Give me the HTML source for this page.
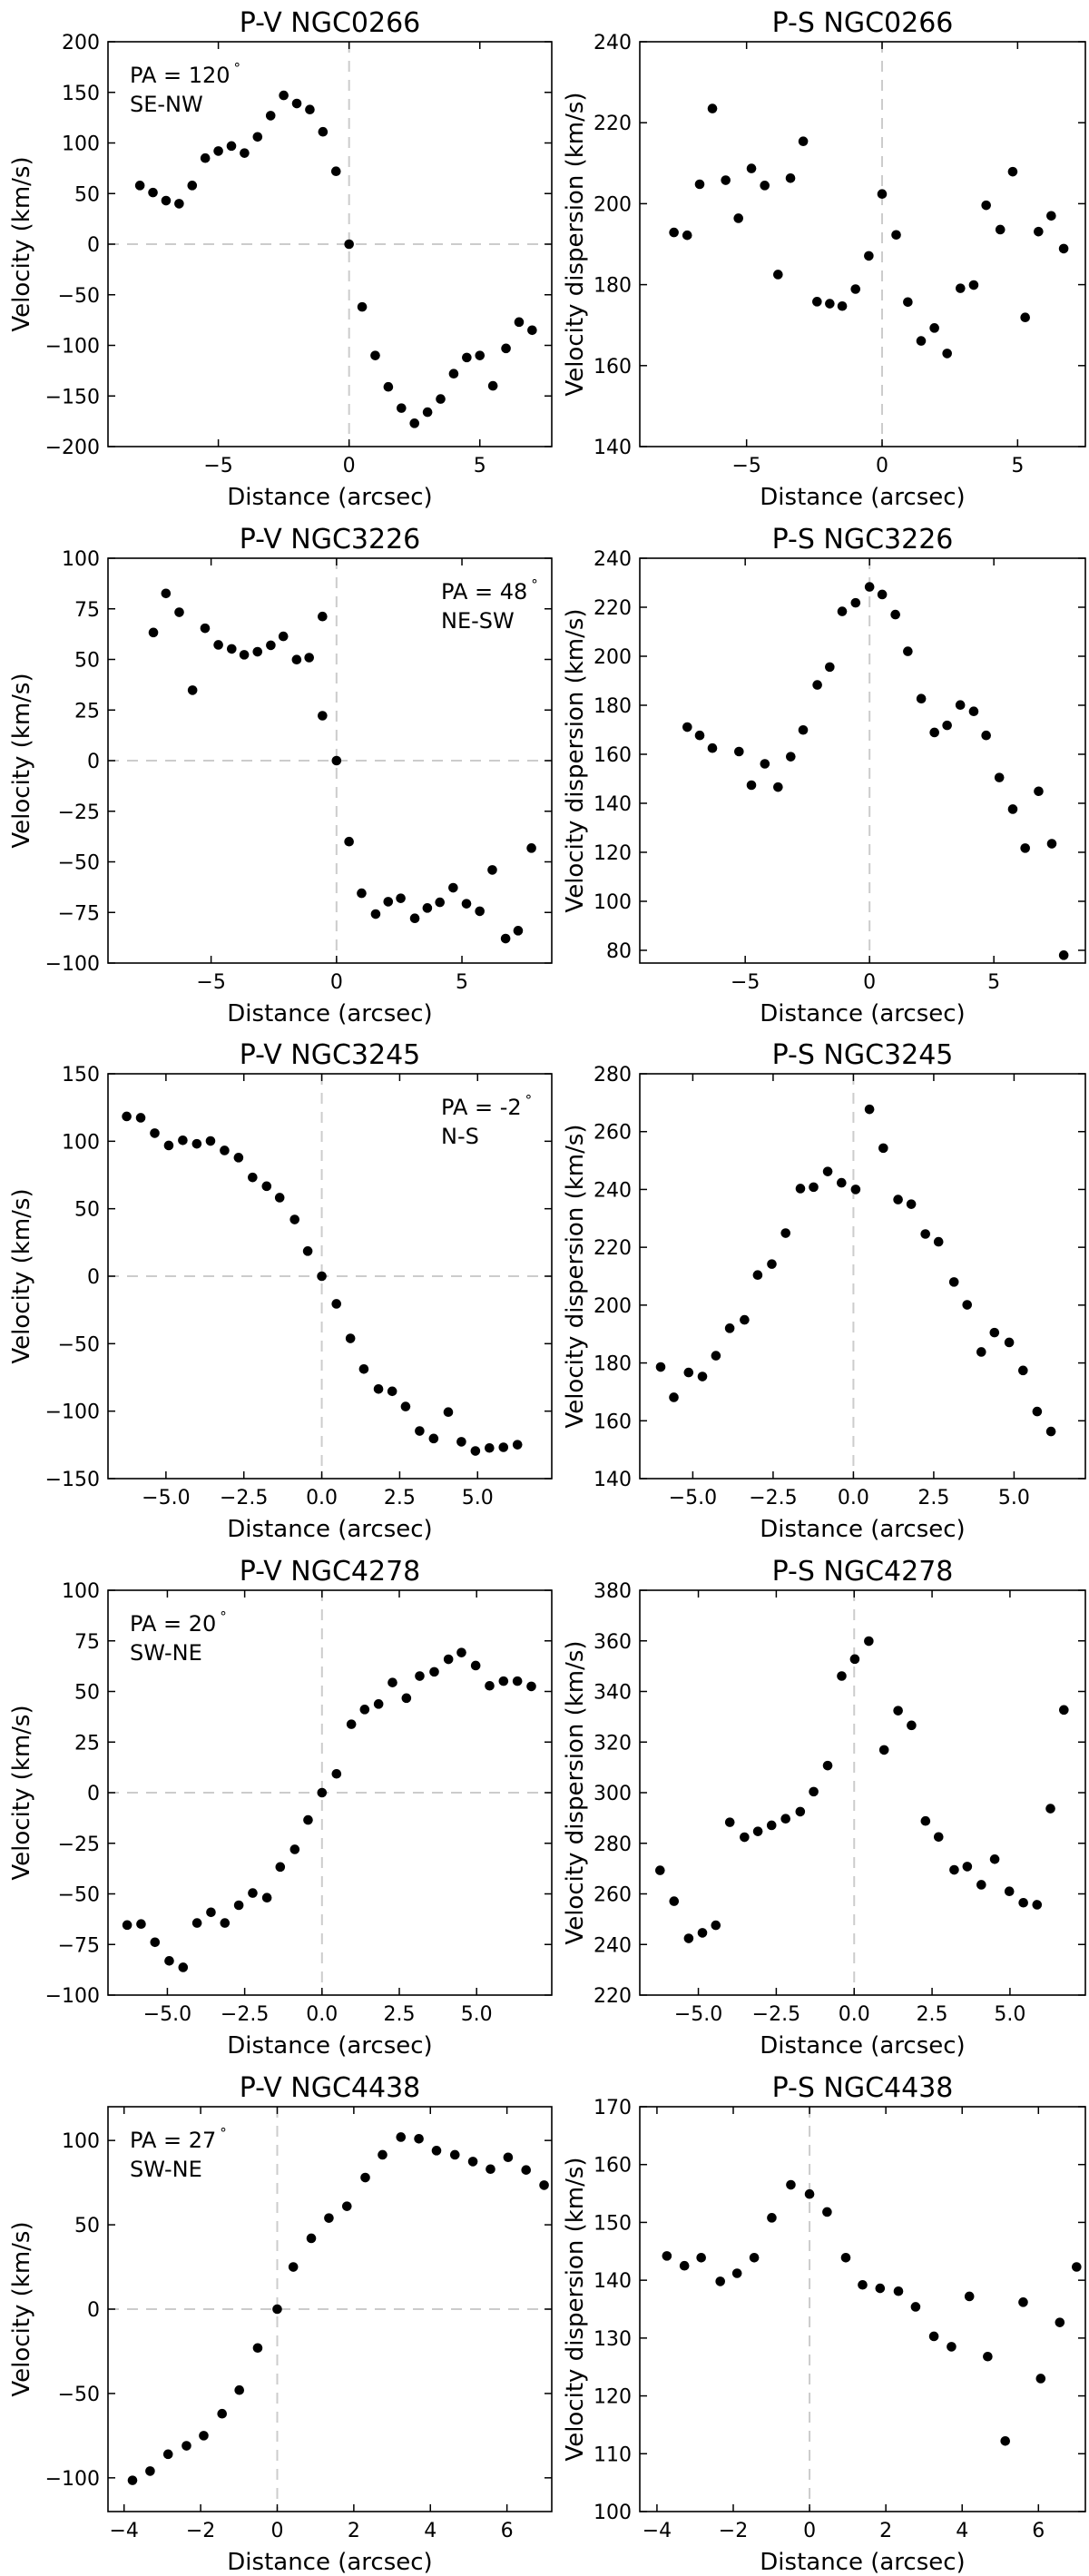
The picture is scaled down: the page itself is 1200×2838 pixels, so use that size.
<!DOCTYPE html>
<html><head><meta charset="utf-8"><style>
html,body{margin:0;padding:0;background:#fff;}
svg{display:block;font-family:"DejaVu Sans","Liberation Sans",sans-serif;}
</style></head><body>
<svg id="fig" width="1200" height="2838" viewBox="0 0 1200 2838" xmlns="http://www.w3.org/2000/svg"></svg>
<script>
// ---- data ----
const pv0266_x=[-8.0,-7.5,-7.0,-6.5,-6.0,-5.5,-5.0,-4.5,-4.0,-3.5,-3.0,-2.5,-2.0,-1.5,-1.0,-0.5,0,0.5,1.0,1.5,2.0,2.5,3.0,3.5,4.0,4.5,5.0,5.5,6.0,6.5,7.0];
const pv0266_v=[58,51,43,40,58,85,92,97,90,106,127,147,139,133,111,72,0,-62,-110,-141,-162,-177,-166,-153,-128,-112,-110,-140,-103,-77,-85];
const ps0266_x=[-7.68,-7.19,-6.73,-6.26,-5.77,-5.3,-4.82,-4.33,-3.84,-3.38,-2.91,-2.4,-1.93,-1.47,-0.98,-0.49,0,0.52,0.95,1.44,1.93,2.4,2.89,3.38,3.84,4.36,4.82,5.28,5.77,6.24,6.7];
const ps0266_s=[192.9,192.2,204.8,223.5,205.8,196.4,208.7,204.5,182.5,206.3,215.4,175.8,175.3,174.7,178.9,187.1,202.4,192.3,175.7,166.1,169.3,163,179.1,179.9,199.6,193.6,207.9,171.9,193.1,197,188.9];
const pv3226_x=[-7.3,-6.8,-6.27,-5.74,-5.24,-4.71,-4.18,-3.68,-3.15,-2.62,-2.12,-1.59,-1.09,-0.56,-0.56,0,0.5,1.0,1.56,2.06,2.56,3.12,3.62,4.12,4.65,5.18,5.71,6.21,6.74,7.24,7.77];
const pv3226_v=[63.3,82.6,73.3,34.8,65.4,57.2,55.2,52.3,53.8,57,61.4,49.9,50.9,71.2,22.2,0,-40,-65.5,-75.8,-69.7,-68,-77.9,-72.8,-70,-62.8,-70.7,-74.4,-54,-87.9,-84,-43.2];
const ps3226_x=[-7.33,-6.83,-6.32,-5.25,-4.75,-4.21,-3.68,-3.17,-2.67,-2.1,-1.6,-1.1,-0.56,0,0.51,1.04,1.54,2.08,2.61,3.12,3.65,4.19,4.69,5.22,5.76,6.26,6.8,7.33,7.81];
const ps3226_s=[171.1,167.7,162.5,161.1,147.4,156.1,146.6,159,169.9,188.3,195.6,218.3,221.8,228.3,225.2,217,202,182.7,168.9,171.8,180.1,177.5,167.7,150.5,137.6,121.7,144.9,123.5,78];
const pv3245_x=[-6.26,-5.81,-5.36,-4.91,-4.46,-4.01,-3.57,-3.12,-2.67,-2.22,-1.77,-1.35,-0.87,-0.45,0,0.47,0.92,1.35,1.82,2.26,2.69,3.14,3.59,4.06,4.48,4.93,5.38,5.83,6.28];
const pv3245_v=[118.4,117.4,106,96.9,100.7,98.1,100.2,93.2,87.9,73.2,66.7,58.2,42,18.6,0,-20.5,-46.1,-68.8,-83.6,-85.3,-96.6,-114.7,-120.3,-100.7,-122.7,-129.5,-127.3,-126.8,-124.9];
const ps3245_x=[-6.0,-5.59,-5.13,-4.7,-4.28,-3.85,-3.39,-2.98,-2.54,-2.11,-1.65,-1.24,-0.8,-0.37,0.07,0.5,0.93,1.39,1.8,2.24,2.65,3.13,3.54,3.98,4.39,4.85,5.28,5.72,6.15];
const ps3245_s=[178.6,168.1,176.7,175.3,182.5,192,194.9,210.4,214.2,224.9,240.3,240.8,246.2,242.3,240,267.7,254.3,236.5,234.9,224.6,221.9,208,200.1,183.8,190.5,187.1,177.4,163.2,156.3];
const pv4278_x=[-6.3,-5.85,-5.4,-4.94,-4.49,-4.04,-3.59,-3.14,-2.69,-2.24,-1.78,-1.35,-0.88,-0.45,0,0.47,0.95,1.38,1.83,2.28,2.73,3.16,3.63,4.09,4.51,4.97,5.42,5.87,6.32,6.77];
const pv4278_v=[-65.4,-64.9,-73.9,-83.1,-86.3,-64.4,-59.1,-64.4,-55.6,-49.6,-51.9,-36.7,-28,-13.5,0,9.3,33.8,41.1,43.8,54.4,46.7,57.6,59.7,65.9,69.2,62.8,52.8,55.1,55.1,52.5];
const ps4278_x=[-6.23,-5.78,-5.31,-4.87,-4.44,-3.99,-3.52,-3.09,-2.65,-2.2,-1.73,-1.3,-0.85,-0.4,0.02,0.47,0.96,1.41,1.84,2.29,2.71,3.21,3.63,4.08,4.51,4.98,5.43,5.87,6.3,6.73];
const ps4278_s=[269.3,257.1,242.4,244.6,247.6,288.3,282.4,284.7,287.1,289.7,292.5,300.4,310.7,346.1,352.8,359.9,316.9,332.4,326.6,288.8,282.5,269.5,270.8,263.6,273.7,261,256.5,255.7,293.7,332.7];
const pv4438_x=[-3.78,-3.32,-2.85,-2.37,-1.92,-1.44,-0.99,-0.51,0,0.42,0.89,1.35,1.82,2.3,2.75,3.23,3.7,4.16,4.64,5.11,5.57,6.03,6.5,6.97];
const pv4438_v=[-101.5,-96,-86,-81,-75,-62,-48,-23,0,25,42,54,61,78,91.5,102,101,94,91.5,87.5,83,90,82.5,73.5];
const ps4438_x=[-3.74,-3.28,-2.84,-2.34,-1.9,-1.45,-0.99,-0.49,0,0.46,0.95,1.39,1.85,2.33,2.78,3.26,3.72,4.19,4.67,5.13,5.6,6.06,6.56,7.0];
const ps4438_s=[144.2,142.5,143.9,139.8,141.2,143.9,150.8,156.5,154.9,151.8,143.9,139.2,138.6,138.1,135.4,130.3,128.5,137.2,126.8,112.2,136.2,123,132.7,142.3];
// tick labels
const xt5=[-5,0,5];
const xt25=[-5,-2.5,0,2.5,5];
const xt2=[-4,-2,0,2,4,6];
const yt_pv0266=[-200,-150,-100,-50,0,50,100,150,200];
const yt_ps0266=[140,160,180,200,220,240];
const yt_pv3226=[-100,-75,-50,-25,0,25,50,75,100];
const yt_ps3226=[80,100,120,140,160,180,200,220,240];
const yt_pv3245=[-150,-100,-50,0,50,100,150];
const yt_ps3245=[140,160,180,200,220,240,260,280];
const yt_pv4278=[-100,-75,-50,-25,0,25,50,75,100];
const yt_ps4278=[220,240,260,280,300,320,340,360,380];
const yt_pv4438=[-100,-50,0,50,100];
const yt_ps4438=[100,110,120,130,140,150,160,170];

const NS="http://www.w3.org/2000/svg";
const svg=document.getElementById('fig');
function mk(tag,attrs,parent){const e=document.createElementNS(NS,tag);for(const k in attrs)e.setAttribute(k,attrs[k]);(parent||svg).appendChild(e);return e;}
function fmt(v,dec){let s=dec?v.toFixed(1):String(v);return s.replace('-','\u2212');}

const rows=[46,615,1183,1752,2321];const H=446;
const L={x0:119,x1:608}, R={x0:705,x1:1196};

function panel(o){
  const g=mk('g',{});
  
  
  const x0=o.box.x0,x1=o.box.x1,y0=o.top,y1=o.top+H;
  const sx=v=>x0+(v-o.xlim[0])/(o.xlim[1]-o.xlim[0])*(x1-x0);
  const sy=v=>y1-(v-o.ylim[0])/(o.ylim[1]-o.ylim[0])*(y1-y0);
  const vl=mk('line',{x1:sx(0),x2:sx(0),y1:y0,y2:y1,stroke:'#cccccc','stroke-width':2,'stroke-dasharray':'12,9'},g);
  
  
  if(o.hzero){const hl=mk('line',{x1:x0,x2:x1,y1:sy(0),y2:sy(0),stroke:'#cccccc','stroke-width':2,'stroke-dasharray':'12,9'},g);
    
    }
  for(let i=0;i<o.xs.length;i++){
    const c=mk('circle',{cx:sx(o.xs[i]),cy:sy(o.ys[i]),r:5.3,fill:'#000'},g);
    
    
  }
  const fr=mk('rect',{x:x0,y:y0,width:x1-x0,height:y1-y0,fill:'none',stroke:'#000','stroke-width':1.6},g);
  
  
  o.xt.forEach(t=>{const X=sx(t);
    mk('line',{x1:X,x2:X,y1:y1,y2:y1-8,stroke:'#000','stroke-width':1.5},g);
    mk('line',{x1:X,x2:X,y1:y0,y2:y0+8,stroke:'#000','stroke-width':1.5},g);
    const tx=mk('text',{x:X,y:y1+28,'font-size':22,'text-anchor':'middle'},g);tx.textContent=fmt(t,o.xdec);
    
    
  });
  o.yt.forEach(t=>{const Y=sy(t);
    mk('line',{x1:x0,x2:x0+8,y1:Y,y2:Y,stroke:'#000','stroke-width':1.5},g);
    mk('line',{x1:x1,x2:x1-8,y1:Y,y2:Y,stroke:'#000','stroke-width':1.5},g);
    const ty=mk('text',{x:x0-9,y:Y+8,'font-size':22,'text-anchor':'end'},g);ty.textContent=fmt(t,false);
    
    
  });
  const cx=(x0+x1)/2;
  const tt=mk('text',{x:cx,y:y0-11,'font-size':30,'text-anchor':'middle'},g);tt.textContent=o.title;
  
  
  const xl=mk('text',{x:cx,y:y1+64,'font-size':26,'text-anchor':'middle'},g);xl.textContent='Distance (arcsec)';
  
  
  const ylx=o.box===L?32:642;
  const yl=mk('text',{x:ylx,y:(y0+y1)/2,'font-size':26,'text-anchor':'middle',transform:`rotate(-90 ${ylx} ${(y0+y1)/2})`},g);yl.textContent=o.ylabel;
  
  
  if(o.pa){const px=o.paRight?486:143;
    const t1=mk('text',{x:px,y:y0+45,'font-size':24},g);
    t1.textContent='PA = '+o.pa[0];
    const sup=mk('tspan',{'font-size':15,dy:-11,dx:4},t1);sup.textContent='°';
    
    
    const t2=mk('text',{x:px,y:y0+77,'font-size':24},g);t2.textContent=o.pa[1];
    
    }
}
const VL='Velocity (km/s)', SL='Velocity dispersion (km/s)';
panel({name:'pv-ngc0266',box:L,top:rows[0],xlim:[-9.22,7.75],ylim:[-200,200],xs:pv0266_x,ys:pv0266_v,xt:xt5,yt:yt_pv0266,title:'P-V NGC0266',ylabel:VL,hzero:true,pa:['120','SE-NW']});
panel({name:'ps-ngc0266',box:R,top:rows[0],xlim:[-8.94,7.5],ylim:[140,240],xs:ps0266_x,ys:ps0266_s,xt:xt5,yt:yt_ps0266,title:'P-S NGC0266',ylabel:SL});
panel({name:'pv-ngc3226',box:L,top:rows[1],xlim:[-9.11,8.58],ylim:[-100,100],xs:pv3226_x,ys:pv3226_v,xt:xt5,yt:yt_pv3226,title:'P-V NGC3226',ylabel:VL,hzero:true,pa:['48','NE-SW'],paRight:true});
panel({name:'ps-ngc3226',box:R,top:rows[1],xlim:[-9.24,8.68],ylim:[74.8,240],xs:ps3226_x,ys:ps3226_s,xt:xt5,yt:yt_ps3226,title:'P-S NGC3226',ylabel:SL});
panel({name:'pv-ngc3245',box:L,top:rows[2],xlim:[-6.86,7.38],ylim:[-150,150],xs:pv3245_x,ys:pv3245_v,xt:xt25,xdec:true,yt:yt_pv3245,title:'P-V NGC3245',ylabel:VL,hzero:true,pa:['-2','N-S'],paRight:true});
panel({name:'ps-ngc3245',box:R,top:rows[2],xlim:[-6.65,7.22],ylim:[140,280],xs:ps3245_x,ys:ps3245_s,xt:xt25,xdec:true,yt:yt_ps3245,title:'P-S NGC3245',ylabel:SL});
panel({name:'pv-ngc4278',box:L,top:rows[3],xlim:[-6.92,7.43],ylim:[-100,100],xs:pv4278_x,ys:pv4278_v,xt:xt25,xdec:true,yt:yt_pv4278,title:'P-V NGC4278',ylabel:VL,hzero:true,pa:['20','SW-NE']});
panel({name:'ps-ngc4278',box:R,top:rows[3],xlim:[-6.88,7.42],ylim:[220,380],xs:ps4278_x,ys:ps4278_s,xt:xt25,xdec:true,yt:yt_ps4278,title:'P-S NGC4278',ylabel:SL});
panel({name:'pv-ngc4438',box:L,top:rows[4],xlim:[-4.42,7.17],ylim:[-120,120],xs:pv4438_x,ys:pv4438_v,xt:xt2,yt:yt_pv4438,title:'P-V NGC4438',ylabel:VL,hzero:true,pa:['27','SW-NE']});
panel({name:'ps-ngc4438',box:R,top:rows[4],xlim:[-4.45,7.23],ylim:[100,170],xs:ps4438_x,ys:ps4438_s,xt:xt2,yt:yt_ps4438,title:'P-S NGC4438',ylabel:SL});
</script>
</body></html>
